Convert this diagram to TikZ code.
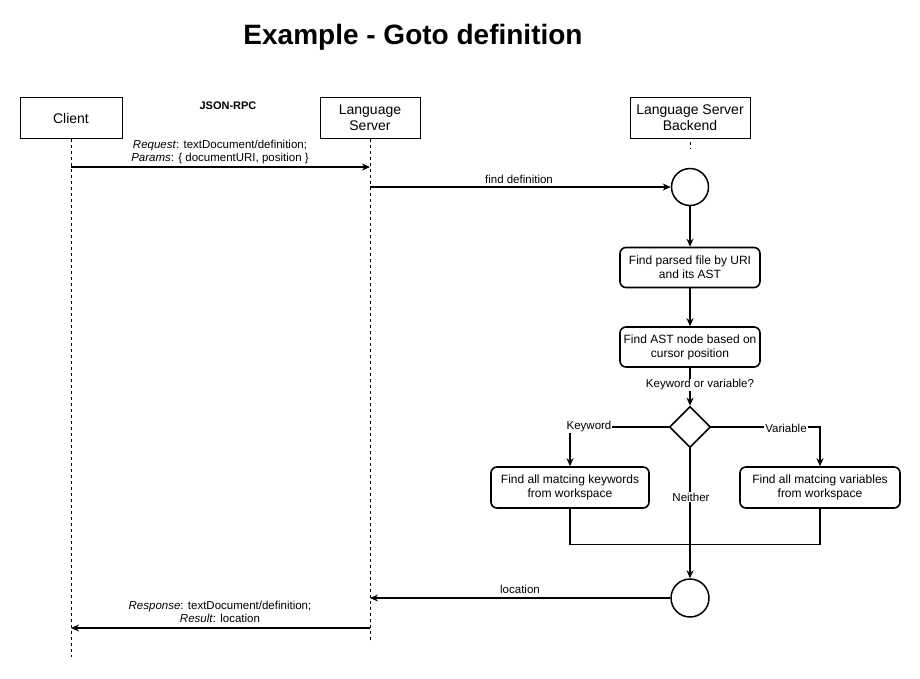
\documentclass[tikz,border=0pt]{standalone}
\usepackage{fontspec}
\setmainfont{Liberation Sans}
\usetikzlibrary{arrows.meta,shapes.geometric}
\begin{document}
\begin{tikzpicture}[x=1pt,y=-1pt,
 actor/.style={draw,line width=1pt,minimum width=102pt,minimum height=41pt,align=center,inner sep=1pt,font=\fontsize{14}{16}\selectfont},
 lifeline/.style={line width=0.9pt,dash pattern=on 3pt off 3pt},
 msg/.style={line width=1.2pt,-{Stealth[length=8pt,width=7pt]}},
 lbl/.style={font=\fontsize{11.5}{13}\selectfont,align=center,inner sep=1pt},
 stepbox/.style={draw,line width=1.6pt,rounded corners=6pt,minimum width=140pt,minimum height=40pt,align=center,inner sep=1pt,font=\fontsize{12}{14}\selectfont},
 state/.style={draw,circle,line width=1.5pt,minimum size=37pt,inner sep=0pt},
 decide/.style={draw,diamond,line width=1.6pt,minimum width=41pt,minimum height=41pt,inner sep=0pt},
 flow/.style={line width=1.2pt,-{Stealth[length=8pt,width=7pt]}},
 wlbl/.style={lbl,fill=white},
]
\useasboundingbox (0,0) rectangle (920,678);

\node[font=\bfseries\fontsize{28}{32}\selectfont] (title) at (413,37) {Example - Goto definition};

\node[actor] (client) at (71,118) {Client};
\node[actor,minimum width=100pt] (ls) at (370,118) {Language\\Server};
\node[actor,minimum width=120pt] (bk) at (690,118) {Language Server\\Backend};
\node[font=\bfseries\fontsize{11}{13}\selectfont] (rpc) at (228,106) {JSON-RPC};

\coordinate (cl167) at (71,167);
\coordinate (ls167) at (370,167);
\coordinate (ls187) at (370,187);
\coordinate (ls598) at (370,598);
\coordinate (ls628) at (370,628);
\coordinate (cl628) at (71,628);
\coordinate (clend) at (71,657);
\coordinate (lsend) at (370,643);

\draw[lifeline] (client.south) -- (clend);
\draw[lifeline] (ls.south) -- (lsend);
\draw[lifeline] (bk.south) ++(0,3) -- ++(0,7);

\draw[msg] (cl167) -- (ls167);
\node[lbl] (req) at (220,152) {\textit{Request}: textDocument/definition;\\\textit{Params}: \{ documentURI, position \}};

\node[state] (c1) at (690,187) {};
\draw[msg] (ls187) -- (c1.west);
\node[lbl] (fd) at (519,179) {find definition};

\node[stepbox] (b1) at (690,267.5) {Find parsed file by URI\\and its AST};
\node[stepbox] (b2) at (690,347) {Find AST node based on\\cursor position};
\node[decide] (dia) at (690,427) {};
\node[stepbox,minimum width=158pt,minimum height=41pt] (b3) at (570,487.5) {Find all matcing keywords\\from workspace};
\node[stepbox,minimum width=160pt,minimum height=41pt] (b4) at (820,487.5) {Find all matcing variables\\from workspace};
\node[state,minimum size=38pt] (c2) at (690,598) {};

\draw[flow] (c1.south) -- (b1.north);
\draw[flow] (b1.south) -- (b2.north);
\draw[flow] (b2.south) -- (dia.north);
\node[wlbl] (kv) at (700,385) {Keyword or variable?};

\draw[flow] (dia.west) -| (b3.north);
\node[wlbl] (kw) at (589,426.5) {Keyword};
\draw[flow] (dia.east) -| (b4.north);
\node[wlbl] (var) at (786,428) {Variable};

\draw[flow] (dia.south) -- (c2.north);
\node[wlbl] (nei) at (691,497) {Neither};

\draw[line width=1.2pt] (b3.south) -- ++(0,35.5) -| (b4.south);

\draw[msg] (c2.west) -- (ls598);
\node[lbl] (loc) at (520,589) {location};

\draw[msg] (ls628) -- (cl628);
\node[lbl] (resp) at (220,612) {\textit{Response}: textDocument/definition;\\\textit{Result}: location};
\end{tikzpicture}
\end{document}
